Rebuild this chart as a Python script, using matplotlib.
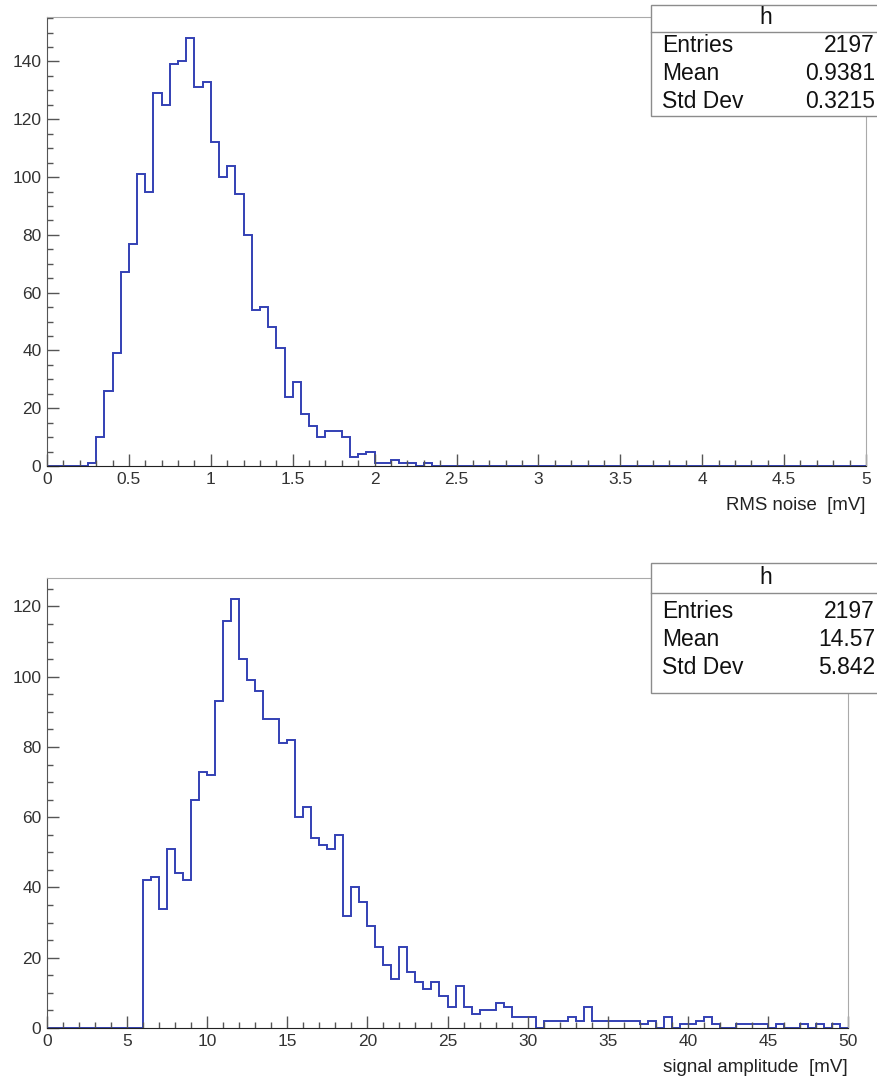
import numpy as np
import matplotlib
matplotlib.use("Agg")
import matplotlib.pyplot as plt
from matplotlib.patches import Rectangle
from matplotlib.ticker import MultipleLocator

plt.rcParams['font.family'] = ['Liberation Sans', 'DejaVu Sans']

# RMS noise histogram, 100 bins over 0..5 mV
noise_edges = np.linspace(0, 5, 101)
noise_counts = [0] * 5 + [
    1, 10, 26, 39, 67, 77, 101, 95, 129, 125,
    139, 140, 148, 131, 133, 112, 100, 104, 94, 80,
    54, 55, 48, 41, 24, 29, 18, 14, 10, 12,
    12, 10, 3, 4, 5, 1, 1, 2, 1, 1,
    0, 1] + [0] * 53
noise_stats = [("Entries", "2197"), ("Mean", "0.9381"), ("Std Dev", "0.3215")]

# signal amplitude histogram, 100 bins over 0..50 mV
amp_edges = np.linspace(0, 50, 101)
amp_counts = [0] * 12 + [
    42, 43, 34, 51, 44, 42, 65, 73, 72, 93,
    116, 122, 105, 99, 96, 88, 88, 81, 82, 60,
    63, 54, 52, 51, 55, 32, 40, 36, 29, 23,
    18, 14, 23, 16, 13, 11, 13, 9, 6, 12,
    6, 4, 5, 5, 7, 6, 3, 3, 3, 0,
    2, 2, 2, 3, 2, 6, 2, 2, 2, 2,
    2, 2, 1, 2, 0, 3, 0, 1, 1, 2,
    3, 1, 0, 0, 1, 1, 1, 1, 0, 1,
    0, 0, 1, 0, 1, 0, 1, 0]
amp_stats = [("Entries", "2197"), ("Mean", "14.57"), ("Std Dev", "5.842")]

W, H = 877, 1081
LINE = '#3340b4'


def px_axes(fig, x0, y0, x1, y1):
    return fig.add_axes([x0 / W, 1 - y1 / H, (x1 - x0) / W, (y1 - y0) / H])


def style(ax, xmaj, xmin, ymaj, ymin):
    ax.xaxis.set_major_locator(MultipleLocator(xmaj))
    ax.xaxis.set_minor_locator(MultipleLocator(xmin))
    ax.yaxis.set_major_locator(MultipleLocator(ymaj))
    ax.yaxis.set_minor_locator(MultipleLocator(ymin))
    ax.tick_params(which='both', direction='in', top=False, right=False,
                   color='#555555', width=1, labelsize=12.5, labelcolor='#333333')
    ax.tick_params(which='major', length=8.6, pad=4)
    ax.tick_params(which='minor', length=4.3)
    ax.spines['left'].set_color('#555555')
    ax.spines['bottom'].set_color('#222222')
    ax.spines['top'].set_color('#aaaaaa')
    ax.spines['right'].set_color('#aaaaaa')
    ax.xaxis.set_major_formatter(lambda v, p: f"{v:g}")


def stats_box(fig, x0, y0, x1, y1, ysep, yh, rows_y, rows):
    fig.add_artist(Rectangle((x0 / W, 1 - y1 / H), (x1 - x0) / W, (y1 - y0) / H,
                             transform=fig.transFigure, facecolor='white',
                             edgecolor='#8c8c8c', lw=1, zorder=10))
    fig.add_artist(plt.Line2D([x0 / W, x1 / W], [1 - ysep / H] * 2,
                              transform=fig.transFigure, color='#8c8c8c', lw=1, zorder=11))
    fig.text((x0 + x1) / 2 / W + 0.001, 1 - yh / H, "h", ha='center', va='center',
             fontsize=16.5, color='#111111', zorder=12)
    for (name, val), y in zip(rows, rows_y):
        fig.text(662 / W, 1 - y / H, name, ha='left', va='center',
                 fontsize=16.5, color='#111111', zorder=12)
        fig.text(875 / W, 1 - y / H, val, ha='right', va='center',
                 fontsize=16.5, color='#111111', zorder=12)


fig = plt.figure(figsize=(W / 100, H / 100), dpi=100)

ax1 = px_axes(fig, 47, 17, 866, 466)
ax1.stairs(noise_counts, noise_edges, color=LINE, lw=1.4)
ax1.set_xlim(0, 5)
ax1.set_ylim(0, max(noise_counts) * 1.05)
style(ax1, 0.5, 0.1, 20, 5)
fig.text(866 / W, 1 - 506 / H, "RMS noise  [mV]", ha='right', va='center',
         fontsize=13.4, color='#222222')
stats_box(fig, 651, 5, 878, 116, 31.7, 17.5, [46, 74, 102], noise_stats)

ax2 = px_axes(fig, 47, 578, 848, 1028)
ax2.stairs(amp_counts, amp_edges, color=LINE, lw=1.4)
ax2.set_xlim(0, 50)
ax2.set_ylim(0, max(amp_counts) * 1.05)
style(ax2, 5, 1, 20, 5)
fig.text(848 / W, 1 - 1067 / H, "signal amplitude  [mV]", ha='right', va='center',
         fontsize=13.6, color='#222222')
stats_box(fig, 651, 563, 878, 693, 593.3, 577.5, [611, 639.5, 667.5], amp_stats)

fig.savefig("out.png", dpi=100)
